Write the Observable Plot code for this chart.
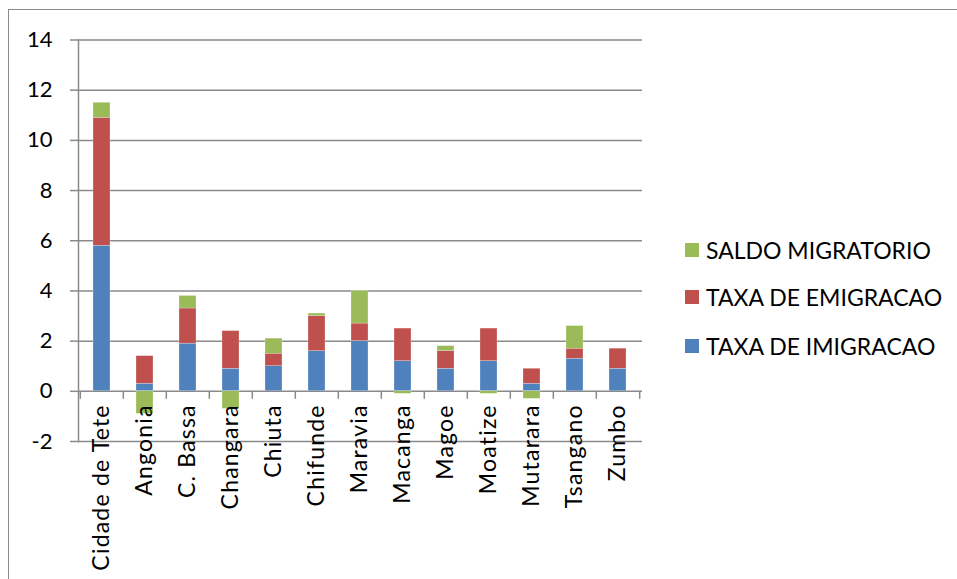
<!DOCTYPE html>
<html>
<head>
<meta charset="utf-8">
<script src="https://cdn.jsdelivr.net/npm/d3@7"></script>
<script src="https://cdn.jsdelivr.net/npm/@observablehq/plot@0.6"></script>
<style>
  html, body { margin: 0; padding: 0; background: #fff; }
  #wrap { position: relative; width: 957px; height: 579px; overflow: hidden; font-family: Lato, "Open Sans", sans-serif; }
  #frame { position: absolute; left: 8px; top: 9px; width: 960px; height: 600px; border-left: 1.2px solid #8a8a8a; border-top: 1.2px solid #8a8a8a; box-sizing: border-box; }
  #chart { position: absolute; left: 0; top: 0; }
  #legend { position: absolute; left: 685px; top: 0; }
  .item { position: absolute; left: 0; white-space: nowrap; display: flex; align-items: center; font-size: 23px; color: #000; height: 24px; }
  .sw { width: 14px; height: 14px; margin-right: 7px; display: inline-block; }
</style>
</head>
<body>
<div id="wrap">
  <div id="frame"></div>
  <div id="chart"></div>
  <div id="legend"></div>
</div>
<script>
const categories = ["Cidade de Tete", "Angonia", "C. Bassa", "Changara", "Chiuta", "Chifunde", "Maravia", "Macanga", "Magoe", "Moatize", "Mutarara", "Tsangano", "Zumbo"];
const taxaImigracao = [5.8, 0.3, 1.9, 0.9, 1.0, 1.6, 2.0, 1.2, 0.9, 1.2, 0.3, 1.3, 0.9];
const taxaEmigracao = [5.1, 1.1, 1.4, 1.5, 0.5, 1.4, 0.7, 1.3, 0.7, 1.3, 0.6, 0.4, 0.8];
const saldoMigratorio = [0.6, -0.9, 0.5, -0.7, 0.6, 0.1, 1.3, -0.1, 0.2, -0.1, -0.3, 0.9, 0];
const seriesNames = ["TAXA DE IMIGRACAO", "TAXA DE EMIGRACAO", "SALDO MIGRATORIO"];
const seriesColors = ["#4F81BD", "#C0504D", "#9BBB59"];
const yTicks = [-2, 0, 2, 4, 6, 8, 10, 12, 14];

const seriesValues = [taxaImigracao, taxaEmigracao, saldoMigratorio];
const rows = [];
categories.forEach((c, i) => {
  seriesNames.forEach((s, k) => rows.push({category: c, series: s, value: seriesValues[k][i]}));
});

const W = 957, H = 579;
const mL = 78, mR = 315, mT = 39.5, mB = 138;
const step = (W - mL - mR) / categories.length;
const pxPerUnit = (H - mT - mB) / (yTicks[yTicks.length - 1] - yTicks[0]);
const tickUnits = 8 / pxPerUnit;
const gray = "#8a8a8a";
const font = "Lato, 'Open Sans', sans-serif";

const chart = Plot.plot({
  width: W,
  height: H,
  marginLeft: mL,
  marginRight: mR,
  marginTop: mT,
  marginBottom: mB,
  style: {fontFamily: font, background: "transparent", overflow: "visible"},
  x: {domain: categories, paddingInner: 0.6, paddingOuter: 0.3, axis: null},
  y: {domain: [yTicks[0], yTicks[yTicks.length - 1]], axis: null},
  color: {domain: seriesNames, range: seriesColors},
  marks: [
    Plot.ruleY(yTicks, {stroke: gray, strokeWidth: 1.5}),
    Plot.axisY({ticks: yTicks, tickSize: 8, tickFormat: () => "", label: null, stroke: gray, strokeWidth: 1.5}),
    Plot.axisY({ticks: yTicks, tickSize: 0, tickPadding: 26, label: null, fontSize: 22, fill: "#000", tickFormat: d => String(d)}),
    Plot.barY(rows, Plot.stackY({x: "category", y: "value", fill: "series", order: seriesNames, stroke: "#fff", strokeWidth: 0.4, strokeOpacity: 0.6})),
    Plot.frame({anchor: "left", stroke: gray, strokeWidth: 1.5}),
    Plot.ruleX(categories, {x: d => d, y1: 0, y2: -tickUnits, dx: -step / 2, stroke: gray, strokeWidth: 1.5}),
    Plot.ruleX(categories.slice(-1), {x: d => d, y1: 0, y2: -tickUnits, dx: step / 2, stroke: gray, strokeWidth: 1.5}),
    Plot.text(categories, {x: d => d, y: 0, text: d => d, rotate: -90, textAnchor: "end", lineAnchor: "middle", dy: 13, fontSize: 23, fill: "#000"})
  ]
});
d3.select(chart).selectAll("g[aria-label='text'] text").style("letter-spacing", "1.2px");
document.getElementById("chart").appendChild(chart);

const legendOrder = [2, 1, 0];
const legendTops = [237.5, 285, 333.5];
const legend = document.getElementById("legend");
legendOrder.forEach((k, j) => {
  const item = document.createElement("div");
  item.className = "item";
  item.style.top = legendTops[j] + "px";
  const sw = document.createElement("span");
  sw.className = "sw";
  sw.style.background = seriesColors[k];
  const t = document.createElement("span");
  t.textContent = seriesNames[k];
  item.appendChild(sw);
  item.appendChild(t);
  legend.appendChild(item);
});
</script>
</body>
</html>
